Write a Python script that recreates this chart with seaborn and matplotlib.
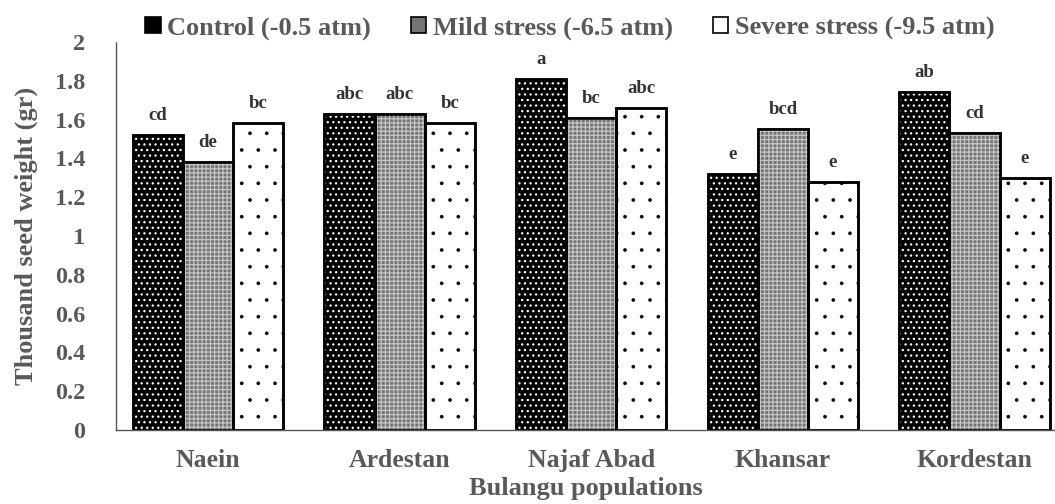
import pandas as pd
import numpy as np
import seaborn as sns
import matplotlib.pyplot as plt
from matplotlib.patches import Rectangle, Patch

# data
populations = ["Naein", "Ardestan", "Najaf Abad", "Khansar", "Kordestan"]
treatments = ["Control (-0.5 atm)", "Mild stress (-6.5 atm)", "Severe stress (-9.5 atm)"]
control = [1.52, 1.63, 1.81, 1.32, 1.74]
mild = [1.38, 1.63, 1.61, 1.55, 1.53]
severe = [1.58, 1.58, 1.66, 1.28, 1.30]
letters_control = ["cd", "abc", "a", "e", "ab"]
letters_mild = ["de", "abc", "bc", "bcd", "cd"]
letters_severe = ["bc", "bc", "abc", "e", "e"]

df = pd.DataFrame({
    "population": populations * 3,
    "treatment": [t for t in treatments for _ in populations],
    "weight": control + mild + severe,
    "letter": letters_control + letters_mild + letters_severe,
})

sns.set_theme(style="white")
plt.rcParams['font.family'] = ['Liberation Serif', 'DejaVu Serif']
plt.rcParams['font.weight'] = 'bold'

txt = "#595959"
faces = ["#000000", "#747474", "#ffffff"]
hatch_cols = ["#ffffff", "#c4c4c4", "#000000"]
hatches = ["...", "++++", "."]
hatch_lw = [0.9, 0.9, 0.2]

fig = plt.figure(figsize=(10.55, 5.04), dpi=100)
ax = fig.add_axes([116 / 1055, 1 - 430 / 504, 1 - 116 / 1055, (430 - 42) / 504])

sns.barplot(data=df, x="population", y="weight", hue="treatment", order=populations,
            hue_order=treatments, palette=faces, width=0.785, edgecolor="black",
            linewidth=1.8, saturation=1, ax=ax, legend=False)

# hatch overlays and significance letters
for i, cont in enumerate(ax.containers):
    sub = df[df["treatment"] == treatments[i]].set_index("population").loc[populations]
    for bar, lt in zip(cont, sub["letter"]):
        x, y0 = bar.get_x(), bar.get_y()
        w, h = bar.get_width(), bar.get_height()
        with plt.rc_context({"hatch.linewidth": hatch_lw[i]}):
            hp = Rectangle((x, y0), w, h, facecolor="none", edgecolor=hatch_cols[i],
                           hatch=hatches[i], linewidth=0, zorder=bar.get_zorder() + 0.1)
        if hasattr(hp, "set_hatch_linewidth"):
            hp.set_hatch_linewidth(hatch_lw[i])
        ax.add_patch(hp)
        ax.add_patch(Rectangle((x, y0), w, h, facecolor="none", edgecolor="black",
                               linewidth=1.8, zorder=bar.get_zorder() + 0.2))
        ax.annotate(lt, (x + w / 2, y0 + h), xytext=(0, 8), textcoords="offset points",
                    ha="center", va="bottom", fontsize=13.5, fontweight="bold", color="#333333")

ax.set_ylim(0, 2)
ax.set_yticks(np.arange(0, 2.01, 0.2))
ax.set_yticklabels(["0", "0.2", "0.4", "0.6", "0.8", "1", "1.2", "1.4", "1.6", "1.8", "2"])
ax.set_xlim(-0.48, 4.42)
ax.tick_params(axis="both", length=0, colors=txt)
ax.tick_params(axis="y", pad=22, labelsize=17.5)
ax.tick_params(axis="x", pad=14, labelsize=18.5)
for lab in ax.get_xticklabels() + ax.get_yticklabels():
    lab.set_fontweight("bold")

ax.set_xlabel("Bulangu populations", fontsize=19, fontweight="bold", color=txt, labelpad=3)
ax.set_ylabel("Thousand seed weight (gr)", fontsize=19, fontweight="bold", color=txt, labelpad=12)

for side in ["top", "right"]:
    ax.spines[side].set_visible(False)
ax.spines["left"].set_color("#555555")
ax.spines["left"].set_linestyle((0, (1, 1)))
ax.spines["left"].set_linewidth(1)
ax.spines["bottom"].set_color("#555555")
ax.spines["bottom"].set_linewidth(1)

handles = [Patch(facecolor=faces[i], edgecolor="black", linewidth=1.2) for i in range(3)]
fig.legend(handles, treatments, loc="upper center", bbox_to_anchor=(0.54, 1.015), ncol=3,
           frameon=False, handlelength=0.6, handleheight=0.6,
           handletextpad=0.25, columnspacing=1.5, labelcolor=txt,
           prop={"family": "Liberation Serif", "weight": "bold", "size": 19})

plt.savefig("out.png", dpi=100)
